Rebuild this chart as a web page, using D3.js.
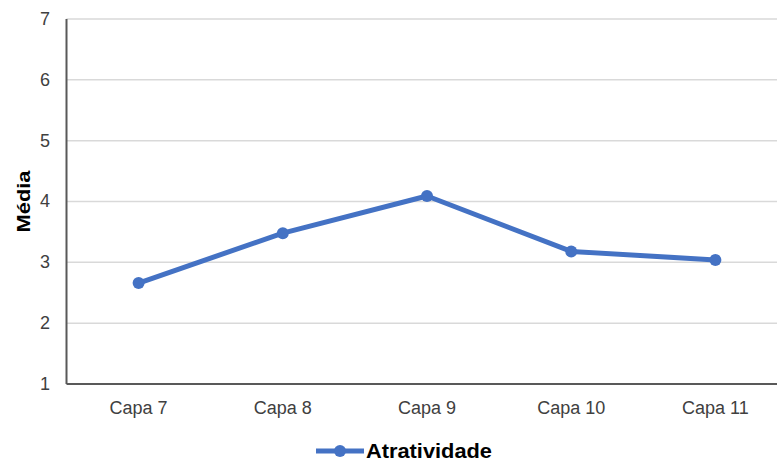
<!DOCTYPE html>
<html><head><meta charset="utf-8">
<script src="https://cdn.jsdelivr.net/npm/d3@7"></script>
<style>body{margin:0;background:#fff}svg{display:block}</style>
</head><body><svg id="c" width="777" height="461"></svg>
<script>
const categories = ["Capa 7","Capa 8","Capa 9","Capa 10","Capa 11"];
const values = [2.66, 3.48, 4.09, 3.18, 3.04];
const yTicks = [1,2,3,4,5,6,7];
const seriesName = "Atratividade";
const yTitle = "Média";

const svg = d3.select("#c");
const pLeft = 66.5, pTop = 19, pBottom = 384, bandW = 144.2;
const x = d3.scaleBand().domain(categories).range([pLeft, pLeft + bandW*categories.length]);
const y = d3.scaleLinear().domain([1,7]).range([pBottom, pTop]);
const color = "#4472C4";
const font = "Liberation Sans, Arial, sans-serif";

// gridlines
svg.append("g").selectAll("line").data(yTicks.filter(t=>t>1)).join("line")
  .attr("x1", pLeft).attr("x2", 777)
  .attr("y1", d=>y(d)).attr("y2", d=>y(d))
  .attr("stroke", "#d9d9d9").attr("stroke-width", 1.5);

// y labels
svg.append("g").selectAll("text").data(yTicks).join("text")
  .attr("x", 50).attr("y", d=>y(d)).attr("dy","0.33em")
  .attr("text-anchor","end")
  .attr("font-family",font).attr("font-size",18)
  .attr("fill","#404040").text(d=>d);

// x labels
svg.append("g").selectAll("text").data(categories).join("text")
  .attr("x", d=>x(d)+x.bandwidth()/2).attr("y", 414)
  .attr("text-anchor","middle")
  .attr("font-family",font).attr("font-size",18)
  .attr("fill","#404040").text(d=>d);

// axes lines
svg.append("line").attr("x1",pLeft).attr("x2",pLeft).attr("y1",pTop).attr("y2",pBottom)
  .attr("stroke","#595959").attr("stroke-width",2);
svg.append("line").attr("x1",pLeft).attr("x2",777).attr("y1",pBottom).attr("y2",pBottom)
  .attr("stroke","#595959").attr("stroke-width",2);

// y title
svg.append("text").attr("transform",`translate(29.5,201.5) rotate(-90)`)
  .attr("text-anchor","middle")
  .attr("font-family",font).attr("font-size",19)
  .attr("textLength",62).attr("lengthAdjust","spacingAndGlyphs")
  .attr("font-weight","bold").attr("fill","#000").text(yTitle);

// line
const data = categories.map((c,i)=>({c, v: values[i]}));
svg.append("path").datum(data)
  .attr("d", d3.line().x(d=>x(d.c)+x.bandwidth()/2).y(d=>y(d.v)))
  .attr("fill","none").attr("stroke",color).attr("stroke-width",5)
  .attr("stroke-linejoin","round");
svg.append("g").selectAll("circle").data(data).join("circle")
  .attr("cx", d=>x(d.c)+x.bandwidth()/2).attr("cy", d=>y(d.v))
  .attr("r",6).attr("fill",color);

// legend
const lg = svg.append("g");
lg.append("line").attr("x1",316).attr("x2",364).attr("y1",451).attr("y2",451)
  .attr("stroke",color).attr("stroke-width",5);
lg.append("circle").attr("cx",340).attr("cy",451).attr("r",6).attr("fill",color);
lg.append("text").attr("x",366).attr("y",458)
  .attr("font-family",font).attr("font-size",20)
  .attr("textLength",126).attr("lengthAdjust","spacingAndGlyphs")
  .attr("font-weight","bold").attr("fill","#000").text(seriesName);
</script></body></html>
